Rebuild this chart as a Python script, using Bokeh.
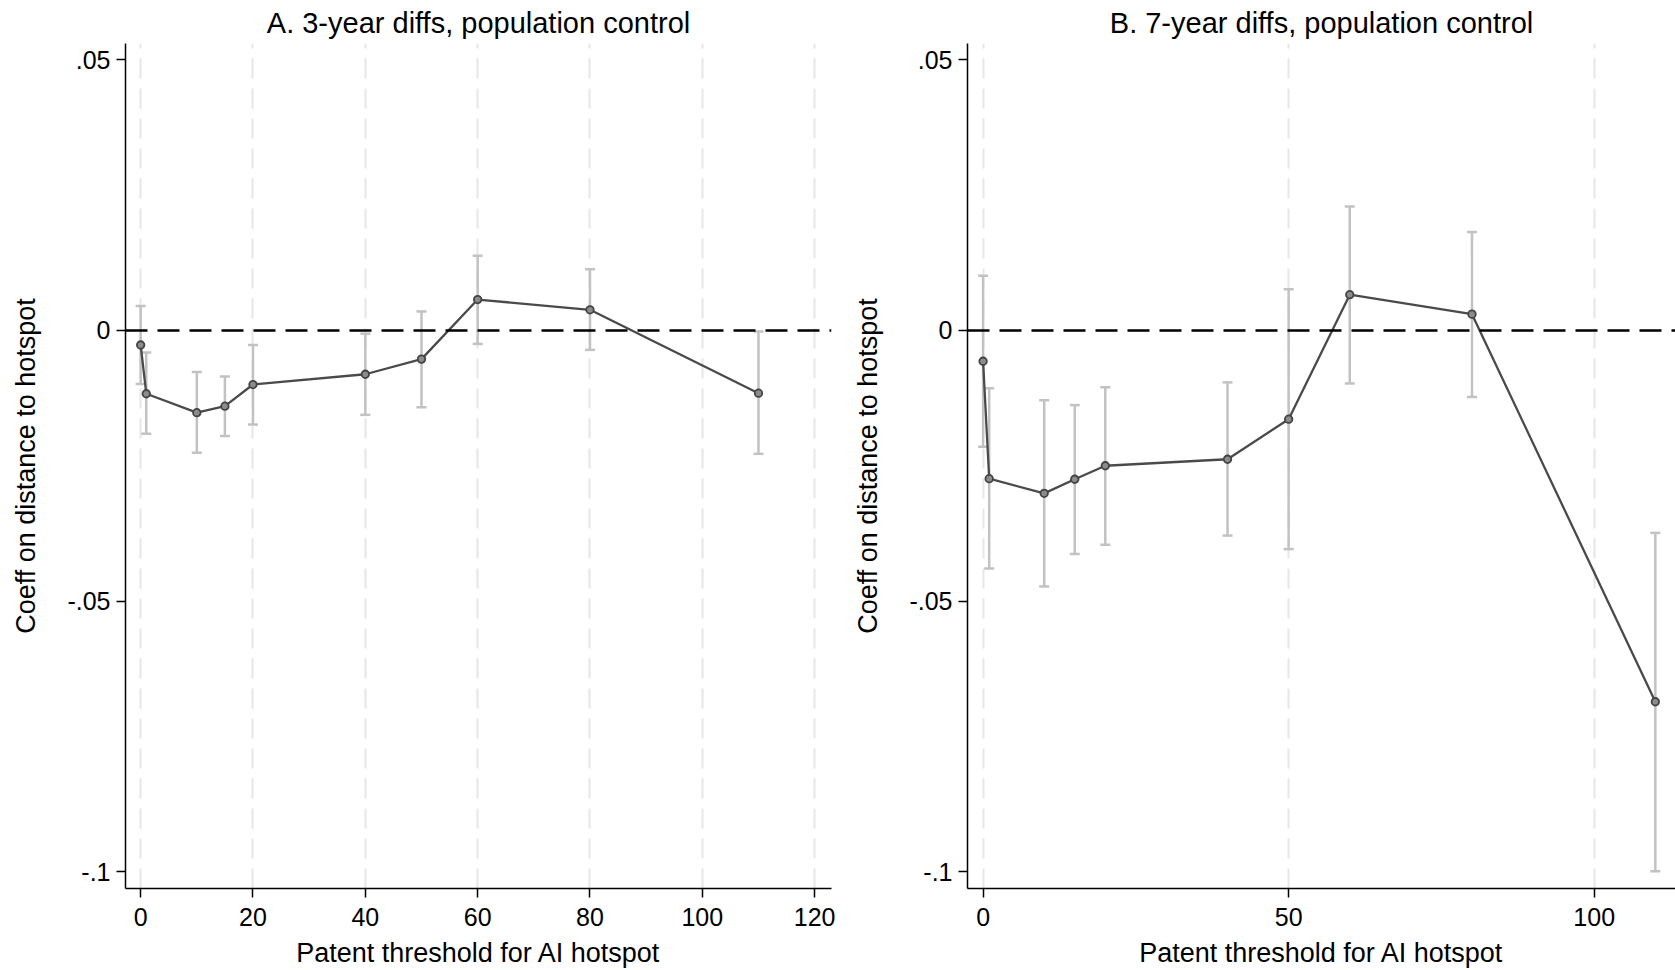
from bokeh.plotting import figure
from bokeh.layouts import row
from bokeh.models import Range1d, FixedTicker, Span, ColumnDataSource
from bokeh.embed import file_html
from bokeh.resources import INLINE

# ---- data ----
thresholds = [0, 1, 10, 15, 20, 40, 50, 60, 80, 110]

coef_a = [-0.0027, -0.0117, -0.0152, -0.0140, -0.0100, -0.0081, -0.0053, 0.0057, 0.0038, -0.0116]
lo_a = [-0.0099, -0.0191, -0.0226, -0.0195, -0.0174, -0.0156, -0.0142, -0.0025, -0.0036, -0.0228]
hi_a = [0.0045, -0.0041, -0.0077, -0.0085, -0.0027, -0.0006, 0.0035, 0.0138, 0.0113, -0.0002]

coef_b = [-0.0057, -0.0274, -0.0301, -0.0275, -0.0250, -0.0238, -0.0164, 0.0066, 0.0030, -0.0686]
lo_b = [-0.0215, -0.0440, -0.0473, -0.0413, -0.0396, -0.0379, -0.0404, -0.0098, -0.0123, -0.0999]
hi_b = [0.0101, -0.0107, -0.0129, -0.0138, -0.0105, -0.0096, 0.0076, 0.0229, 0.0182, -0.0374]

xticks_a = [0, 20, 40, 60, 80, 100, 120]
xticks_b = [0, 50, 100]
yticks = [0.05, 0, -0.05, -0.1]
ytick_labels = {0.05: ".05", 0: "0", -0.05: "-.05", -0.1: "-.1"}

title_a = "A. 3-year diffs, population control"
title_b = "B. 7-year diffs, population control"
xlabel = "Patent threshold for AI hotspot"
ylabel = "Coeff on distance to hotspot"

FONT = "Liberation Sans"


def make_panel(title, x, coef, lo, hi, xticks, xr, width, mbl, mbr):
    p = figure(width=width, height=970, output_backend="svg", toolbar_location=None,
               x_range=Range1d(*xr), y_range=Range1d(-0.1031, 0.0530),
               min_border_left=mbl, min_border_right=mbr,
               min_border_top=42, min_border_bottom=82,
               title=title)
    p.outline_line_color = None
    p.background_fill_color = "white"
    p.border_fill_color = "white"

    p.title.text_font = FONT
    p.title.text_font_size = "29px"
    p.title.text_font_style = "normal"
    p.title.align = "center"
    p.title.standoff = 9
    p.title.text_color = "black"

    # grid
    p.ygrid.visible = False
    p.xgrid.ticker = FixedTicker(ticks=xticks)
    p.xgrid.grid_line_color = "#e6e6e6"
    p.xgrid.grid_line_width = 2
    p.xgrid.grid_line_dash = "20 10"

    # axes
    for ax in (p.xaxis[0], p.yaxis[0]):
        ax.axis_line_color = "black"
        ax.axis_line_width = 1.5
        ax.major_tick_line_color = "black"
        ax.major_tick_line_width = 1.5
        ax.major_tick_out = 9
        ax.major_tick_in = 0
        ax.minor_tick_line_color = None
        ax.major_label_text_font = FONT
        ax.major_label_text_font_size = "25px"
        ax.major_label_text_color = "black"
        ax.axis_label_text_font = FONT
        ax.axis_label_text_font_size = "27px"
        ax.axis_label_text_font_style = "normal"
        ax.axis_label_text_color = "black"

    p.xaxis[0].ticker = FixedTicker(ticks=xticks)
    p.xaxis[0].axis_label = xlabel
    p.xaxis[0].major_label_standoff = 10
    p.xaxis[0].axis_label_standoff = 9

    p.yaxis[0].ticker = FixedTicker(ticks=yticks)
    p.yaxis[0].major_label_overrides = ytick_labels
    p.yaxis[0].major_label_orientation = "horizontal"
    p.yaxis[0].axis_label = ylabel
    p.yaxis[0].major_label_standoff = 6
    p.yaxis[0].axis_label_standoff = 23

    src = ColumnDataSource(dict(x=x, coef=coef, lo=lo, hi=hi))

    # confidence intervals
    p.segment(x0="x", y0="lo", x1="x", y1="hi", source=src,
              line_color="#c2c2c2", line_width=2.5)
    p.scatter(x="x", y="lo", source=src, marker="dash", size=10,
              line_color="#c2c2c2", line_width=2.5)
    p.scatter(x="x", y="hi", source=src, marker="dash", size=10,
              line_color="#c2c2c2", line_width=2.5)

    # zero reference line
    zero = Span(location=0, dimension="width", line_color="black",
                line_width=2.5, line_dash="22 10")
    p.add_layout(zero)

    # coefficient line and markers
    p.line(x="x", y="coef", source=src, line_color="#4a4a4a", line_width=2.3)
    p.scatter(x="x", y="coef", source=src, marker="circle", size=7.5,
              fill_color="#8c8c8c", line_color="#444444", line_width=1.8)
    return p


pa = make_panel(title_a, thresholds, coef_a, lo_a, hi_a, xticks_a,
                (-2.7, 123.0), 848, 125, 17)
pb = make_panel(title_b, thresholds, coef_b, lo_b, hi_b, xticks_b,
                (-2.55, 113.3), 827, 119, 0)

layout = row(pa, pb)
open("out.html", "w").write(file_html(layout, INLINE))
